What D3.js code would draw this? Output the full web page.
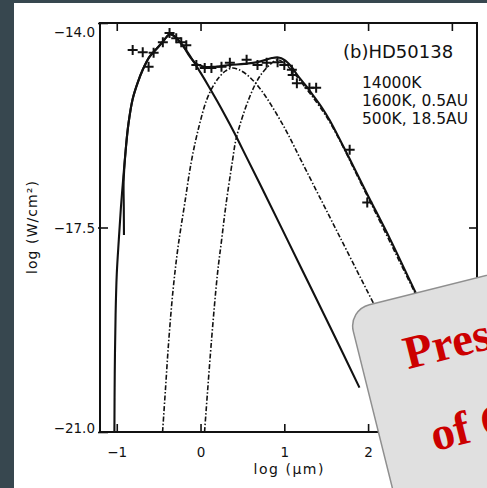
<!DOCTYPE html>
<html>
<head>
<meta charset="utf-8">
<script src="https://cdn.jsdelivr.net/npm/d3@7"></script>
<style>
  html, body { margin: 0; padding: 0; background: #ffffff; overflow: hidden; }
  svg { display: block; }
</style>
</head>
<body>
<svg id="chart" width="487" height="488"></svg>
<script>
// Axis ticks and labels
const xTicks = [-1, 0, 1, 2, 3];
const xTickLabels = ["\u22121", "0", "1", "2", "3"];
const yTicks = [-14.0, -17.5, -21.0];
const yTickLabels = ["\u221214.0", "\u221217.5", "\u221221.0"];

// Observed photometry: log wavelength (micron), log flux (W/cm^2)
const obsLogLambda = [-0.81, -0.69, -0.56, -0.62, -0.45, -0.37, -0.29, -0.23, -0.17, -0.05,
                      0.05, 0.13, 0.25, 0.35, 0.55, 0.68, 0.79, 0.92, 1.00, 1.09,
                      1.10, 1.15, 1.30, 1.38, 1.78, 1.99];
const obsLogFlux = [-14.46, -14.50, -14.51, -14.75, -14.33, -14.17, -14.26, -14.33, -14.38, -14.72,
                    -14.77, -14.77, -14.75, -14.68, -14.63, -14.72, -14.68, -14.67, -14.72, -14.80,
                    -14.89, -15.03, -15.11, -15.11, -16.17, -17.07];

// 14000K photosphere
const starLogLambda = [-1.028, -1.024, -1.014, -1.000, -0.975, -0.950, -0.925, -0.895, -0.860, -0.810,
                       -0.750, -0.690, -0.610, -0.530, -0.450, -0.400, -0.360, -0.300, -0.200, -0.100,
                       0.000, 0.100, 0.200, 0.300, 0.400, 0.550, 0.800, 1.050, 1.300, 1.550, 1.897];
const starLogFlux = [-21.00, -20.00, -19.00, -18.30, -17.70, -17.15, -16.70, -16.20, -15.72, -15.30,
                     -15.02, -14.80, -14.58, -14.45, -14.32, -14.23, -14.19, -14.24, -14.41, -14.62,
                     -14.85, -15.09, -15.34, -15.60, -15.87, -16.30, -17.02, -17.75, -18.48, -19.21, -20.24];

// 1600K dust shell at 0.5 AU
const hotLogLambda = [-0.453, -0.420, -0.380, -0.330, -0.270, -0.190, -0.107, -0.020, 0.072, 0.150,
                      0.227, 0.300, 0.380, 0.460, 0.550, 0.650, 0.750, 0.850, 0.950, 1.050,
                      1.200, 1.500, 2.076, 2.500, 2.850];
const hotLogFlux = [-21.00, -20.30, -19.45, -18.60, -17.85, -17.10, -16.35, -15.78, -15.32, -15.08,
                    -14.92, -14.82, -14.77, -14.80, -14.88, -15.02, -15.20, -15.42, -15.66, -15.92,
                    -16.35, -17.20, -18.83, -20.02, -21.00];

// 500K dust shell at 18.5 AU
const coolLogLambda = [0.048, 0.131, 0.203, 0.251, 0.300, 0.382, 0.430, 0.585, 0.704, 0.823,
                       0.919, 1.000, 1.100, 1.200, 1.330, 1.540, 1.990, 2.580, 3.000, 3.300];
const coolLogFlux = [-21.00, -19.43, -18.28, -17.72, -17.15, -16.35, -15.95, -15.27, -14.92, -14.72,
                     -14.63, -14.69, -14.83, -15.01, -15.25, -15.69, -16.96, -18.68, -19.91, -20.81];

// Sum of the three components
const totalLogLambda = [-0.914, -0.916, -0.918, -0.895, -0.860, -0.810, -0.750, -0.690, -0.610, -0.530,
                        -0.450, -0.400, -0.360, -0.300, -0.200, -0.130, -0.050, 0.050, 0.170, 0.350,
                        0.520, 0.680, 0.850, 0.930, 1.000, 1.080, 1.160, 1.250, 1.350, 1.450,
                        1.540, 1.760, 1.990, 2.260, 2.580, 3.000, 3.300];
const totalLogFlux = [-17.63, -17.15, -16.72, -16.20, -15.72, -15.30, -15.02, -14.80, -14.58, -14.45,
                      -14.32, -14.23, -14.19, -14.24, -14.41, -14.57, -14.70, -14.75, -14.75, -14.72,
                      -14.70, -14.67, -14.60, -14.59, -14.63, -14.74, -14.90, -15.06, -15.25, -15.45,
                      -15.66, -16.27, -16.93, -17.69, -18.65, -19.88, -20.76];

const svg = d3.select("#chart");
const W = 487, H = 488;
const plot = { left: 100, right: 477, top: 23, bottom: 432 };
const labelFont = "'DejaVu Sans', sans-serif";

svg.append("rect").attr("width", W).attr("height", H).attr("fill", "#ffffff");

const x = d3.scaleLinear().domain([-1.2, 3.3]).range([plot.left, plot.right]);
const y = d3.scaleLinear().domain([-14, -21]).range([plot.top, plot.bottom]);

const zip = (xs, ys) => xs.map((v, i) => [v, ys[i]]);
const line = d3.line().x(d => x(d[0])).y(d => y(d[1])).curve(d3.curveCatmullRom.alpha(0.5));

const g = svg.append("g");

// Dust components, dash-dot
[[hotLogLambda, hotLogFlux], [coolLogLambda, coolLogFlux]].forEach(([xs, ys]) => {
  g.append("path")
    .attr("d", line(zip(xs, ys)))
    .attr("fill", "none")
    .attr("stroke", "#111")
    .attr("stroke-width", 1.6)
    .attr("stroke-dasharray", "5,2,1.5,2");
});

// Photosphere and total, solid
[[starLogLambda, starLogFlux], [totalLogLambda, totalLogFlux]].forEach(([xs, ys]) => {
  g.append("path")
    .attr("d", line(zip(xs, ys)))
    .attr("fill", "none")
    .attr("stroke", "#111")
    .attr("stroke-width", 2.1)
    .attr("stroke-linejoin", "round");
});

// Observed points as plus markers
const mk = g.append("g");
zip(obsLogLambda, obsLogFlux).forEach(d => {
  const cx = x(d[0]), cy = y(d[1]);
  mk.append("path")
    .attr("d", `M${cx - 5},${cy}H${cx + 5}M${cx},${cy - 5}V${cy + 5}`)
    .attr("stroke", "#111").attr("stroke-width", 2).attr("fill", "none");
});

// Axes: ticks pointing into the frame
const axB = svg.append("g").attr("transform", `translate(0,${plot.bottom})`)
  .call(d3.axisBottom(x).tickValues(xTicks).tickSizeInner(-8).tickSizeOuter(0).tickPadding(15)
    .tickFormat((d, i) => xTickLabels[i]));
const axT = svg.append("g").attr("transform", `translate(0,${plot.top})`)
  .call(d3.axisTop(x).tickValues(xTicks).tickSizeInner(-8).tickSizeOuter(0).tickFormat(""));
const axL = svg.append("g").attr("transform", `translate(${plot.left},0)`)
  .call(d3.axisLeft(y).tickValues(yTicks).tickSizeInner(-8).tickSizeOuter(0).tickPadding(5)
    .tickFormat((d, i) => yTickLabels[i]));
const axR = svg.append("g").attr("transform", `translate(${plot.right},0)`)
  .call(d3.axisRight(y).tickValues([-17.5]).tickSizeInner(-8).tickSizeOuter(0).tickFormat(""));

[axB, axT, axL, axR].forEach(a => {
  a.select(".domain").remove();
  a.selectAll(".tick line").attr("stroke", "#111").attr("stroke-width", 1.6);
  a.selectAll("text").attr("font-family", labelFont).attr("font-size", 13.5).attr("fill", "#111");
});
// short outward stub on the left ticks
axL.selectAll(".tick line").attr("x1", -2);
const yLabelDy = ["1.0em", "0.38em", "0.05em"];
axL.selectAll(".tick text").attr("dy", (d, i) => yLabelDy[i]);

// Frame
svg.append("rect")
  .attr("x", plot.left).attr("y", plot.top)
  .attr("width", plot.right - plot.left).attr("height", plot.bottom - plot.top)
  .attr("fill", "none").attr("stroke", "#111").attr("stroke-width", 2);

// Axis titles
svg.append("text")
  .attr("x", (plot.left + plot.right) / 2).attr("y", 474)
  .attr("text-anchor", "middle")
  .attr("font-family", labelFont).attr("font-size", 14).attr("fill", "#111")
  .attr("textLength", 70).attr("lengthAdjust", "spacing")
  .text("log (\u03bcm)");
svg.append("text")
  .attr("transform", `translate(37,${(plot.top + plot.bottom) / 2}) rotate(-90)`)
  .attr("text-anchor", "middle")
  .attr("font-family", labelFont).attr("font-size", 14).attr("fill", "#111")
  .attr("textLength", 93).attr("lengthAdjust", "spacing")
  .text("log (W/cm\u00b2)");

// Annotation
svg.append("text")
  .attr("x", 343).attr("y", 58)
  .attr("font-family", labelFont).attr("font-size", 18).attr("fill", "#111")
  .text("(b)HD50138");
const notes = ["14000K", "1600K, 0.5AU", "500K, 18.5AU"];
notes.forEach((t, i) => {
  svg.append("text")
    .attr("x", 362).attr("y", 88 + i * 18)
    .attr("font-family", labelFont).attr("font-size", 15.5).attr("fill", "#111")
    .text(t);
});

// Title card overlapping the lower right corner
const card = svg.append("g").attr("transform", "translate(348,310) rotate(-14)");
card.append("rect")
  .attr("x", 0).attr("y", 0).attr("width", 320).attr("height", 260)
  .attr("rx", 22).attr("ry", 22)
  .attr("fill", "#e0e0e0").attr("stroke", "#8f8f8f").attr("stroke-width", 1.5);
["Presentation", "of Content"].forEach((t, i) => {
  card.append("text")
    .attr("x", i === 0 ? 44 : 50).attr("y", i === 0 ? 72 : 158)
    .attr("font-family", "'Liberation Serif', serif").attr("font-weight", "bold")
    .attr("font-size", 47).attr("fill", "#cc0000")
    .text(t);
});

// Dark page margin
svg.append("rect").attr("x", 0).attr("y", 0).attr("width", W).attr("height", 3).attr("fill", "#37474f");
svg.append("rect").attr("x", 0).attr("y", 0).attr("width", 14).attr("height", H).attr("fill", "#37474f");
</script>
</body>
</html>
